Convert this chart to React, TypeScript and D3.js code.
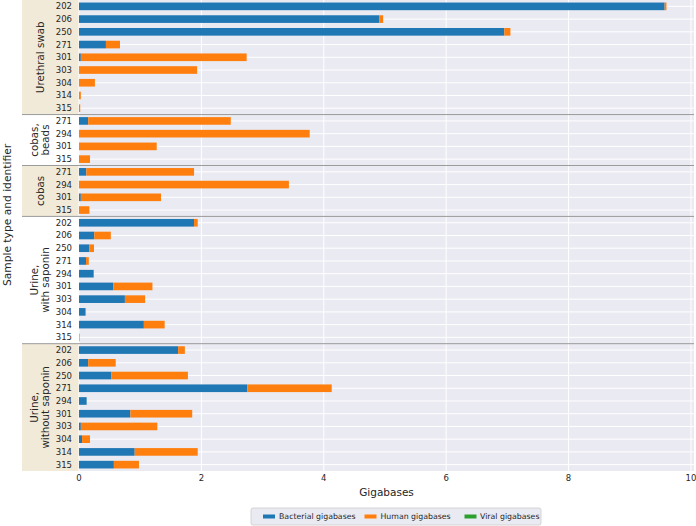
import React from "react";
import * as d3 from "d3";

const groupLabels = [
  ["Urethral swab"],
  ["cobas,", "beads"],
  ["cobas"],
  ["Urine,", "with saponin"],
  ["Urine,", "without saponin"],
];
const groupIds = [
  ["202", "206", "250", "271", "301", "303", "304", "314", "315"],
  ["271", "294", "301", "315"],
  ["271", "294", "301", "315"],
  ["202", "206", "250", "271", "294", "301", "303", "304", "314", "315"],
  ["202", "206", "250", "271", "294", "301", "303", "304", "314", "315"],
];
const bacterial = [
  [9.57, 4.91, 6.95, 0.44, 0.03, 0.01, 0.0, 0.0, 0.0],
  [0.15, 0.0, 0.01, 0.0],
  [0.12, 0.0, 0.03, 0.0],
  [1.88, 0.25, 0.17, 0.115, 0.24, 0.56, 0.75, 0.1, 1.06, 0.0],
  [1.62, 0.15, 0.53, 2.75, 0.125, 0.84, 0.03, 0.05, 0.91, 0.57],
];
const human = [
  [0.03, 0.06, 0.1, 0.23, 2.71, 1.92, 0.26, 0.03, 0.02],
  [2.33, 3.77, 1.26, 0.18],
  [1.76, 3.43, 1.31, 0.17],
  [0.06, 0.27, 0.075, 0.045, 0.005, 0.64, 0.33, 0.015, 0.34, 0.01],
  [0.11, 0.45, 1.25, 1.38, 0.0, 1.01, 1.25, 0.13, 1.03, 0.41],
];
const viral = [
  [0, 0, 0, 0, 0, 0, 0, 0, 0],
  [0, 0, 0, 0],
  [0, 0, 0, 0],
  [0, 0, 0, 0, 0, 0, 0, 0, 0, 0],
  [0, 0, 0, 0, 0, 0, 0, 0, 0, 0],
];
const seriesNames = ["Bacterial gigabases", "Human gigabases", "Viral gigabases"];
const seriesColors = ["#1f77b4", "#ff7f0e", "#2ca02c"];
const xTicks = [0, 2, 4, 6, 8, 10];

export default function App() {
  const W = 696, H = 526;
  const left = 79, right = 694, top = 0, bottom = 471;
  const beigeLeft = 22;

  type Row = { key: string; id: string; g: number; b: number; h: number; v: number };
  const rows: Row[] = [];
  groupIds.forEach((ids, g) =>
    ids.forEach((id, i) =>
      rows.push({ key: `${g}-${i}`, id, g, b: bacterial[g][i], h: human[g][i], v: viral[g][i] })
    )
  );

  const x = d3.scaleLinear().domain([0, 10.05]).range([left, right]);
  const y = d3.scaleBand<string>().domain(rows.map((r) => r.key)).range([top, bottom]).padding(0);
  const step = y.step();
  const barH = step * 0.6;

  const stack = d3.stack<Row>().keys(["b", "h", "v"]).value((d, k) => (d as any)[k]);
  const stacked = stack(rows);

  const bounds: { g: number; y0: number; y1: number }[] = [];
  let idx = 0;
  groupIds.forEach((ids, g) => {
    const y0 = y(rows[idx].key)!;
    const y1 = y(rows[idx + ids.length - 1].key)! + step;
    bounds.push({ g, y0, y1 });
    idx += ids.length;
  });

  const textColor = "#262626";
  const font = "DejaVu Sans, sans-serif";

  const legendItems = [
    { x: 263, tx: 279 },
    { x: 364.5, tx: 380.5 },
    { x: 464.5, tx: 480 },
  ];

  return (
    <div style={{ position: "fixed", left: 0, top: 0 }}>
      <svg width={W} height={H} style={{ display: "block", fontFamily: font }}>
        <rect x={0} y={0} width={W} height={H} fill="#ffffff" />
        {bounds.map((b) =>
          b.g % 2 === 0 ? (
            <rect key={"bg" + b.g} x={beigeLeft} y={b.y0} width={left - beigeLeft} height={b.y1 - b.y0} fill="#f1ead9" />
          ) : null
        )}
        <rect x={left} y={top} width={right - left} height={bottom - top} fill="#eaeaf2" />
        {xTicks.map((t) => (
          <line key={"gx" + t} x1={x(t)} x2={x(t)} y1={top} y2={bottom} stroke="#ffffff" strokeWidth={1} />
        ))}
        {rows.map((r) => (
          <line key={"gy" + r.key} x1={left} x2={right} y1={y(r.key)! + step / 2} y2={y(r.key)! + step / 2} stroke="#ffffff" strokeWidth={1} />
        ))}
        {stacked.map((s, si) => (
          <g key={"s" + si} fill={seriesColors[si]}>
            {s.map((d, i) => {
              const w = x(d[1]) - x(d[0]);
              if (w <= 0) return null;
              return (
                <rect key={i} x={x(d[0])} y={y(rows[i].key)! + (step - barH) / 2} width={w} height={barH} />
              );
            })}
          </g>
        ))}
        {bounds.slice(1).map((b) => (
          <line key={"sep" + b.g} x1={beigeLeft} x2={right} y1={b.y0} y2={b.y0} stroke="#9a9a9a" strokeWidth={1} />
        ))}
        {rows.map((r) => (
          <text key={"yl" + r.key} x={72} y={y(r.key)! + step / 2} dy="0.35em" textAnchor="end" fontSize={8.5} fill={textColor}>
            {r.id}
          </text>
        ))}
        {bounds.map((b) => {
          const lines = groupLabels[b.g];
          const cy = (b.y0 + b.y1) / 2;
          const lh = 10.5;
          const cx = 40;
          return (
            <g key={"gl" + b.g} transform={`translate(${cx},${cy}) rotate(-90)`}>
              {lines.map((l, li) => (
                <text key={li} x={0} y={(li - (lines.length - 1) / 2) * lh} dy="0.35em" textAnchor="middle" fontSize={10.3} fill={textColor}>
                  {l}
                </text>
              ))}
            </g>
          );
        })}
        <text transform={`translate(7,215) rotate(-90)`} textAnchor="middle" dy="0.35em" fontSize={10.7} fill={textColor}>
          Sample type and identifier
        </text>
        {xTicks.map((t) => (
          <text key={"xt" + t} x={x(t)} y={478} dy="0.35em" textAnchor="middle" fontSize={8.5} fill={textColor}>
            {t}
          </text>
        ))}
        <text x={(left + right) / 2} y={492} dy="0.35em" textAnchor="middle" fontSize={10.5} fill={textColor}>
          Gigabases
        </text>
        <rect x={251} y={508} width={290} height={17} rx={2} fill="#eaeaf2" stroke="#cccccc" strokeWidth={0.8} />
        {seriesNames.map((n, i) => (
          <g key={"lg" + i}>
            <rect x={legendItems[i].x} y={514.5} width={12} height={4} fill={seriesColors[i]} />
            <text x={legendItems[i].tx} y={516.5} dy="0.35em" fontSize={7.8} fill={textColor}>
              {n}
            </text>
          </g>
        ))}
      </svg>
    </div>
  );
}
